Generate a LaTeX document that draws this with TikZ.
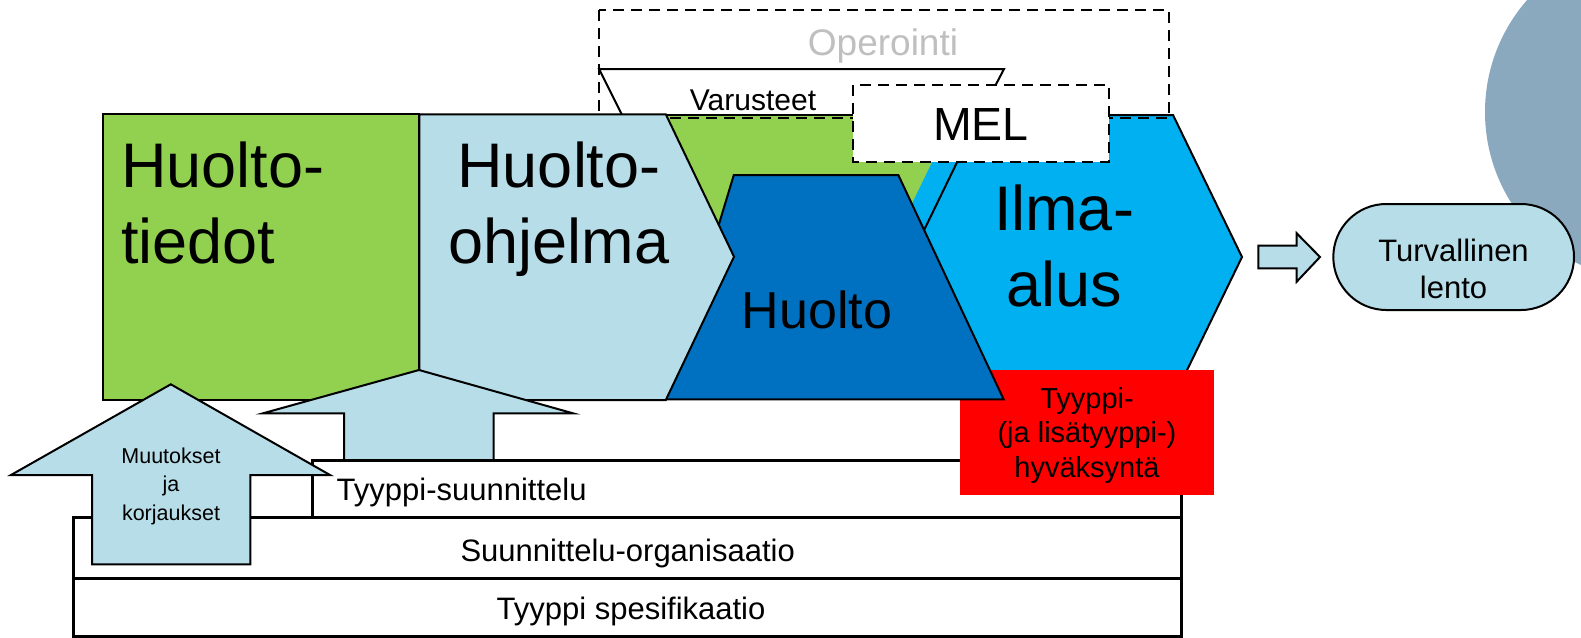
\documentclass[tikz,border=0pt]{standalone}
\usepackage{fontspec}
\setmainfont{Liberation Sans}
\definecolor{cgreen}{HTML}{92D050}
\definecolor{clight}{HTML}{B7DEE8}
\definecolor{cdark}{HTML}{0070C0}
\definecolor{csky}{HTML}{00B0F0}
\definecolor{cgray}{HTML}{BFBFBF}
\definecolor{ccirc}{HTML}{8AA8BE}
\newcommand{\fszA}{\fontsize{63}{75}\selectfont}
\newcommand{\fszB}{\fontsize{52}{60}\selectfont}
\newcommand{\fszMel}{\fontsize{46.5}{54}\selectfont}
\newcommand{\fszOp}{\fontsize{37}{44}\selectfont}
\newcommand{\fszM}{\fontsize{31}{37}\selectfont}
\newcommand{\fszV}{\fontsize{30}{36}\selectfont}
\newcommand{\fszR}{\fontsize{29}{34}\selectfont}
\newcommand{\fszS}{\fontsize{21.5}{28}\selectfont}
\begin{document}
\begin{tikzpicture}[x=1pt,y=-1pt,
  shp/.style={draw=black, line width=2pt, line join=miter},
  boxline/.style={draw=black, line width=3pt, fill=white},
  dsh/.style={draw=black, line width=2pt, dash pattern=on 11pt off 7pt},
  lbl/.style={inner sep=0pt, anchor=base}]
\useasboundingbox (0,0) rectangle (1581,637);
\fill[white] (0,0) rectangle (1581,637);
% background circle
\begin{scope}
\clip (0,0) rectangle (1581,637);
\fill[ccirc] (1655,112) circle[radius=170];
\end{scope}
% Varusteet trapezoid
\draw[shp, fill=white] (599,69) -- (1004,69) -- (980,115) -- (622,115) -- cycle;
\node[lbl, font=\fszV] (var) at (753,110) {Varusteet};
% green area behind
\fill[cgreen] (640,115) -- (975,115) -- (915,240) -- (690,240) -- cycle;
\draw[line width=2pt] (665,115) -- (955,115);
% blue sliver
\fill[csky] (955,115) -- (981,115) -- (912,257) -- (886,257) -- cycle;
% Ilma-alus hexagon
\draw[shp, fill=csky] (980,115) -- (1173,115) -- (1242,257) -- (1173,399) -- (980,399) -- (911,257) -- cycle;
% Operointi dashed frame
\draw[dsh] (598.6,10) rectangle (1169,118.3);
\node[lbl, font=\fszOp, text=cgray] (ope) at (883,55) {Operointi};
% MEL box
\draw[dsh, fill=white] (853,85) rectangle (1109,162);
\node[lbl, font=\fszMel] (mel) at (981,140) {MEL};
% bottom boxes
\draw[boxline] (73,578) rectangle (1181,636);
\draw[boxline] (73,517.5) rectangle (1181,578);
\draw[boxline] (312.5,460) rectangle (1181,517.5);
\node[lbl, font=\fszM] (tsp) at (631,619.5) {Tyyppi spesifikaatio};
\node[lbl, font=\fszM] (so) at (627.7,561.7) {Suunnittelu-organisaatio};
\node[lbl, anchor=base west, font=\fszM] (ts) at (336.5,500.5) {Tyyppi-suunnittelu};
% red box
\fill[red] (959.6,370) rectangle (1214,495);
\node[lbl, font=\fszR] (tya) at (1087,408.3) {Tyyppi-};
\node[lbl, font=\fszR] (tyb) at (1087,442.8) {(ja lisätyyppi-)};
\node[lbl, font=\fszR] (tyc) at (1087,477) {hyväksyntä};
% Huolto trapezoid
\draw[shp, fill=cdark] (733.8,175) -- (898.3,175) -- (1003.6,399.3) -- (666,399.3) -- cycle;
\node[lbl, font=\fszB] (huo) at (817,328) {Huolto};
% Ilma-alus text
\node[lbl, font=\fszA] (ila) at (1064,230) {Ilma-};
\node[lbl, font=\fszA] (ilb) at (1064,306.7) {alus};
% Huolto-tiedot
\draw[shp, fill=cgreen] (103.3,114.3) rectangle (419.4,400);
\node[lbl, anchor=base west, font=\fszA] (hta) at (121,187.3) {Huolto-};
\node[lbl, anchor=base west, font=\fszA] (htb) at (121,263) {tiedot};
% Huolto-ohjelma chevron
\draw[shp, fill=clight] (419.4,114.3) -- (665.8,114.3) -- (734,256.7) -- (665.8,400) -- (419.4,400) -- cycle;
\node[lbl, font=\fszA] (hoa) at (559,187.3) {Huolto-};
\node[lbl, font=\fszA] (hob) at (559,263) {ohjelma};
% big up arrow
\draw[shp, fill=clight] (344,460) -- (344,413.3) -- (263,413.3) -- (419,370) -- (573,413.3) -- (493.5,413.3) -- (493.5,460) -- cycle;
% Muutokset arrow
\draw[shp, fill=clight] (92,564.3) -- (92,475) -- (11,475) -- (170.8,384.3) -- (330,475) -- (250.3,475) -- (250.3,564.3) -- cycle;
\node[lbl, font=\fszS] (mua) at (171,463.3) {Muutokset};
\node[lbl, font=\fszS] (mub) at (171,491.7) {ja};
\node[lbl, font=\fszS] (muc) at (171,520) {korjaukset};
% small right arrow
\draw[shp, fill=clight] (1258.3,245.7) -- (1296.7,245.7) -- (1296.7,233.3) -- (1320,257) -- (1296.7,281.7) -- (1296.7,268.3) -- (1258.3,268.3) -- cycle;
% Turvallinen lento
\draw[shp, fill=clight, rounded corners=53pt] (1333.3,204) rectangle (1574,310);
\node[lbl, font=\fszM] (tva) at (1453.5,261) {Turvallinen};
\node[lbl, font=\fszM] (tvb) at (1453.5,298.3) {lento};
\end{tikzpicture}
\end{document}
